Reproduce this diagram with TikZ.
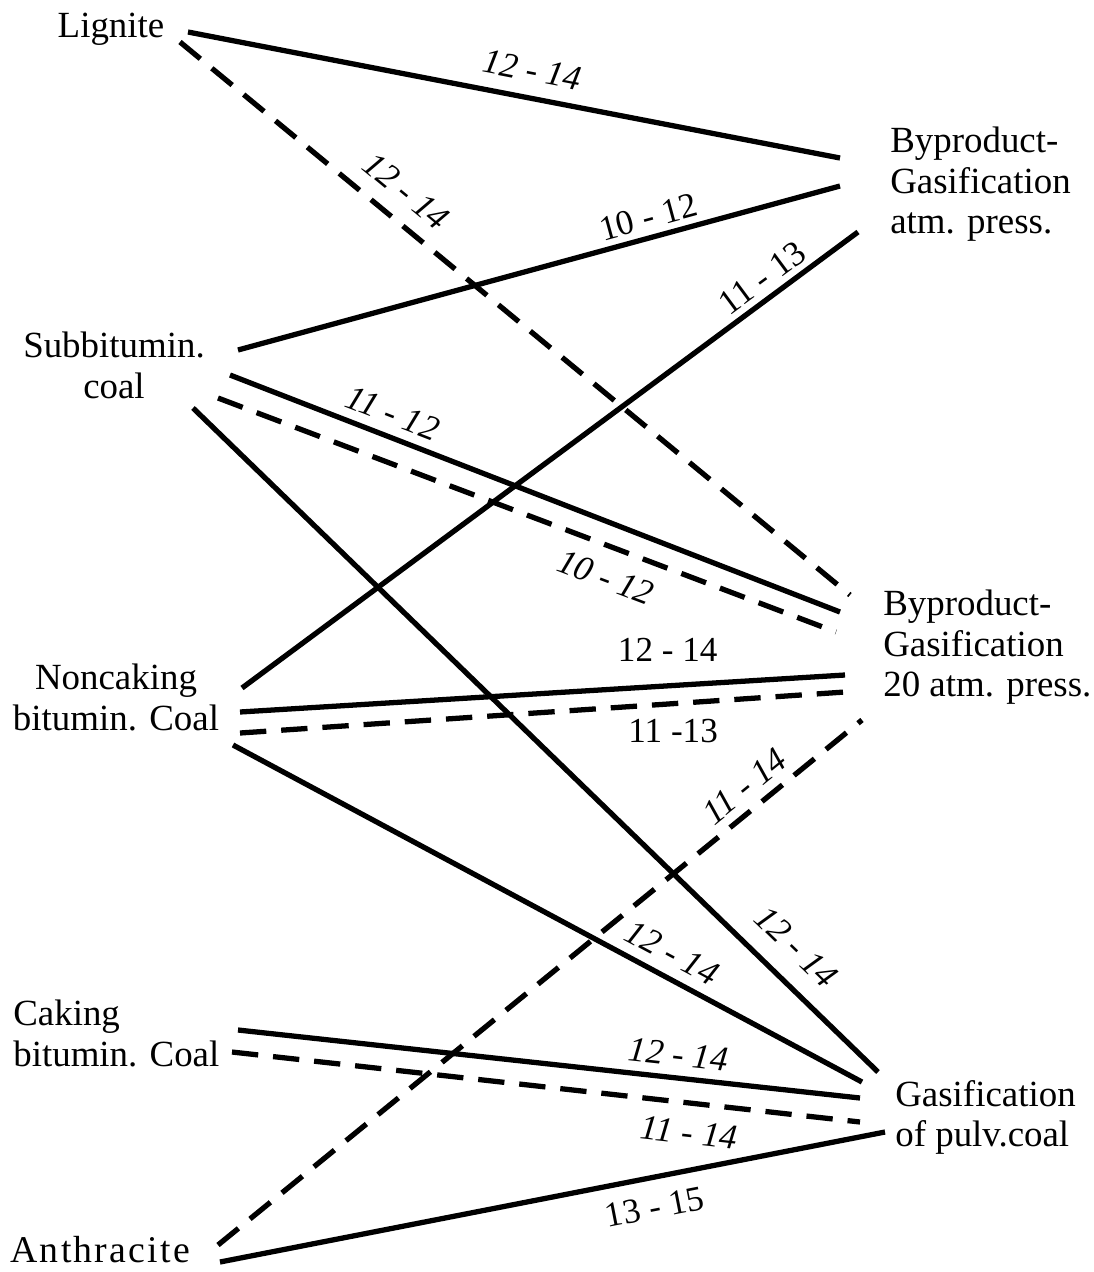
\documentclass[tikz,border=0pt]{standalone}
\usepackage{fontspec}
\setmainfont{Liberation Serif}
\usetikzlibrary{positioning, calc}

\begin{document}
\begin{tikzpicture}[
		% Estilos de textos y enlaces
		coal/.style = {inner sep=0pt, font=\fontsize{21}{23}\selectfont},
		proc/.style = {inner sep=0pt, font=\fontsize{21}{23}\selectfont, align=left, anchor=north west},
		link/.style = {line width=3pt},
		dlink/.style = {line width=3pt, dash pattern=on 15pt off 8.5pt},
		val/.style = {inner sep=0pt, font=\fontsize{20}{22}\selectfont},
		ival/.style = {inner sep=0pt, font=\fontsize{20}{22}\selectfont\itshape},
		x=0.02cm, y=-0.02cm
		]
		\useasboundingbox (0,0) rectangle (1093,1272);
		
		% --- TIPOS DE CARBON (IZQUIERDA) ---
		\node [coal, anchor=north] (lignite) at (111,13) {Lignite};
		\node [coal, anchor=north, align=center] (subbit) at (114,332) {Subbitumin.\\coal};
		\node [coal, anchor=north, align=center] (noncaking) at (116,664) {Noncaking\\bitumin. Coal};
		\node [coal, anchor=north west, align=left] (caking) at (13,1000) {Caking\\bitumin. Coal};
		\node [coal, anchor=north west, font=\fontsize{21.5}{23}\selectfont\addfontfeatures{LetterSpace=6}] (anthracite) at (10,1236) {Anthracite};
		
		% --- PROCESOS (DERECHA) ---
		\node [proc] (bp_atm) at (890,127) {Byproduct-\\Gasification\\atm. press.};
		\node [proc] (bp_20) at (883,590) {Byproduct-\\Gasification\\20 atm. press.};
		\node [proc] (pulv) at (895,1080) {Gasification\\of pulv.coal};
		
		% --- EXTREMOS DE LOS ENLACES ---
		\coordinate (lig_a) at (188,32);
		\coordinate (lig_b) at (180,42);
		\coordinate (sub_a) at (238,350);
		\coordinate (sub_b) at (230,375);
		\coordinate (sub_c) at (218,398);
		\coordinate (sub_d) at (193,408);
		\coordinate (non_a) at (242,688);
		\coordinate (non_b) at (240,712);
		\coordinate (non_c) at (240,733);
		\coordinate (non_d) at (233,745);
		\coordinate (cak_a) at (238,1030);
		\coordinate (cak_b) at (232,1052);
		\coordinate (ant_a) at (218,1245);
		\coordinate (ant_b) at (220,1262);
		
		\coordinate (atm_a) at (840,158);
		\coordinate (atm_b) at (840,186);
		\coordinate (atm_c) at (858,232);
		\coordinate (t20_a) at (850,595);
		\coordinate (t20_b) at (840,612);
		\coordinate (t20_c) at (836,632);
		\coordinate (t20_d) at (845,675);
		\coordinate (t20_e) at (845,692);
		\coordinate (t20_f) at (862,720);
		\coordinate (pul_a) at (878,1072);
		\coordinate (pul_b) at (862,1082);
		\coordinate (pul_c) at (860,1098);
		\coordinate (pul_d) at (860,1122);
		\coordinate (pul_e) at (885,1132);
		
		% --- ENLACES CON RENDIMIENTOS ---
		% Hacia gasificacion a presion atmosferica
		\draw [link] (lig_a) -- node[ival, sloped, above=0.28cm, pos=0.52] (v_lig_atm) {12 - 14} (atm_a);
		\draw [link] (sub_a) -- node[val, sloped, above=0.12cm, pos=0.69] (v_sub_atm) {10 - 12} (atm_b);
		\draw [link] (non_a) -- node[val, sloped, above=0.11cm, pos=0.864] (v_non_atm) {11 - 13} (atm_c);
		
		% Hacia gasificacion a 20 atm
		\draw [dlink] (lig_b) -- node[ival, sloped, above=0.3cm, pos=0.31] (v_lig_20) {12 - 14} (t20_a);
		\draw [link] (sub_b) -- node[ival, sloped, above=0.18cm, pos=0.253] (v_sub_20) {11 - 12} (t20_b);
		\draw [dlink] (sub_c) -- node[ival, sloped, below=0.32cm, pos=0.645] (v_sub_20d) {10 - 12} (t20_c);
		\draw [link] (non_b) -- node[val, above=0.44cm, pos=0.707] (v_non_20) {12 - 14} (t20_d);
		\draw [dlink] (non_c) -- node[val, below=0.26cm, pos=0.716] (v_non_20d) {11 -13} (t20_e);
		\draw [dlink] (ant_a) -- node[ival, sloped, above=0.17cm, pos=0.84] (v_ant_20) {11 - 14} (t20_f);
		
		% Hacia gasificacion de carbon pulverizado
		\draw [link] (sub_d) -- node[ival, sloped, above=0.38cm, pos=0.847] (v_sub_pul) {12 - 14} (pul_a);
		\draw [link] (non_d) -- node[ival, sloped, above=0.2cm, pos=0.68] (v_non_pul) {12 - 14} (pul_b);
		\draw [link] (cak_a) -- node[ival, sloped, above=0.18cm, pos=0.704] (v_cak_pul) {12 - 14} (pul_c);
		\draw [dlink] (cak_b) -- node[ival, sloped, below=0.3cm, pos=0.733] (v_cak_puld) {11 - 14} (pul_d);
		\draw [link] (ant_b) -- node[val, sloped, below=0.3cm, pos=0.645] (v_ant_pul) {13 - 15} (pul_e);
		
	\end{tikzpicture}
\end{document}
